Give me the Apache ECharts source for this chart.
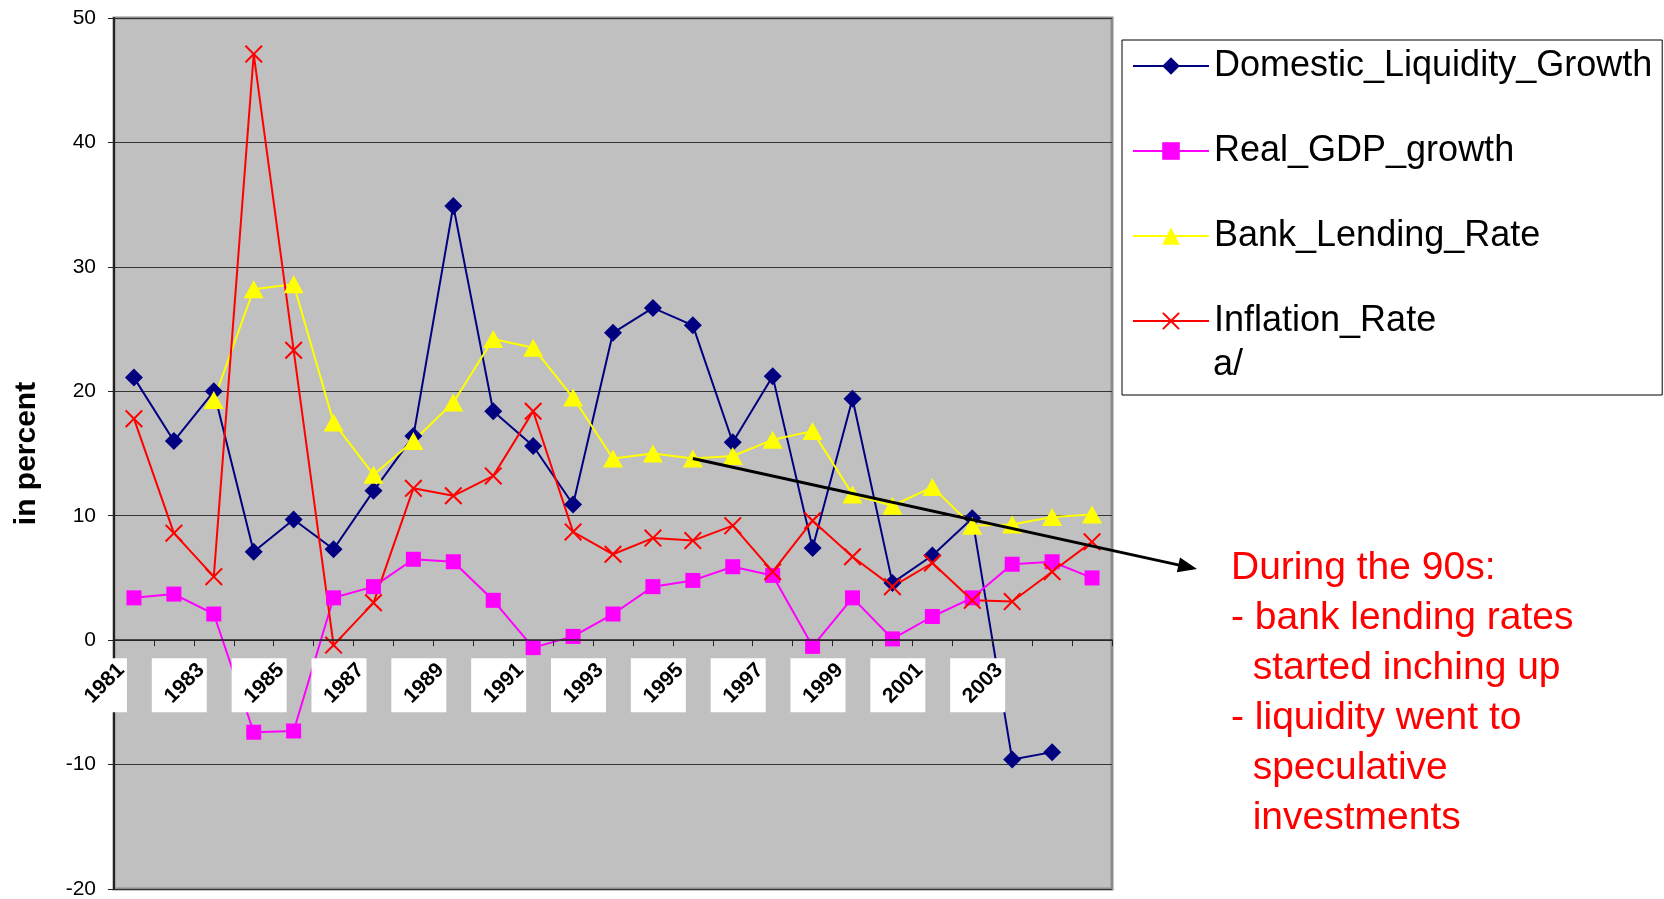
<!DOCTYPE html>
<html>
<head>
<meta charset="utf-8">
<title>Domestic liquidity, GDP, lending rate and inflation</title>
<script src="https://cdn.jsdelivr.net/npm/echarts@6/dist/echarts.min.js"></script>
<style>
html, body { margin: 0; padding: 0; background: #fff; }
#main { width: 1664px; height: 899px; }
</style>
</head>
<body>
<div id="main"></div>
<script>
// categories (one per year), only every other one carries a label
var years = ['1981', '1982', '1983', '1984', '1985', '1986', '1987', '1988', '1989', '1990',
             '1991', '1992', '1993', '1994', '1995', '1996', '1997', '1998', '1999', '2000',
             '2001', '2002', '2003', '2004', '2005'];

// series values (in percent)
var liquidity = [21.1, 16.0, 20.0, 7.1, 9.7, 7.3, 12.0, 16.4, 34.9, 18.4, 15.6, 10.9, 24.7,
                 26.7, 25.3, 15.9, 21.2, 7.4, 19.4, 4.6, 6.8, 9.8, -9.6, -9.0, null];
var gdp = [3.4, 3.7, 2.1, -7.4, -7.3, 3.4, 4.3, 6.5, 6.3, 3.2, -0.6, 0.3, 2.1,
           4.3, 4.8, 5.9, 5.2, -0.5, 3.4, 0.1, 1.9, 3.4, 6.1, 6.3, 5.0];
var lending = [null, null, 19.3, 28.2, 28.6, 17.5, 13.3, 16.0, 19.1, 24.2, 23.5, 19.5, 14.6,
               15.0, 14.6, 14.8, 16.1, 16.8, 11.7, 10.8, 12.3, 9.2, 9.3, 9.9, 10.1];
var inflation = [17.8, 8.6, 5.1, 47.1, 23.3, -0.4, 3.0, 12.2, 11.6, 13.2, 18.4, 8.7, 6.9,
                 8.2, 8.0, 9.2, 5.5, 9.6, 6.7, 4.3, 6.2, 3.2, 3.1, 5.5, 7.9];

// y axis ticks
var yMin = -20, yMax = 50, yStep = 10;

var noteLines = ['During the 90s:', '- bank lending rates', '  started inching up',
                 '- liquidity went to', '  speculative', '  investments'];
var arrowFrom = 14; // index of the bank lending point the arrow starts at

var font = '"Liberation Sans", Arial, Helvetica, sans-serif';
var gridTop = 18, gridBottom = 10, gridH = 899 - gridTop - gridBottom;
// the category axis crosses the value axis at 0 (like Excel)
var zeroOffset = -gridH * (0 - yMin) / (yMax - yMin);
var crossPath = 'path://M0,0.8 L0.8,0 L5,4.2 L9.2,0 L10,0.8 L5.8,5 L10,9.2 L9.2,10 L5,5.8 L0.8,10 L0,9.2 L4.2,5 Z';

function everyOther(i) {
    return i % 2 === 0 && i < years.length - 1;
}

var chart = echarts.init(document.getElementById('main'));

var option = {
    animation: false,
    backgroundColor: '#fff',
    textStyle: { fontFamily: font },
    grid: {
        left: 114, right: 552, top: gridTop, bottom: gridBottom,
        show: true, backgroundColor: '#c0c0c0', borderColor: '#8c8c8c', borderWidth: 3,
        containLabel: false, outerBoundsMode: 'none'
    },
    legend: {
        orient: 'vertical', left: 1122, top: 40,
        itemWidth: 76, itemHeight: 22, itemGap: 43,
        padding: [5, 10, 53, 10],
        borderColor: '#000', borderWidth: 1, backgroundColor: '#fff',
        selectedMode: false,
        textStyle: { fontSize: 36, lineHeight: 42, color: '#000', fontFamily: font },
        data: ['Domestic_Liquidity_Growth', 'Real_GDP_growth', 'Bank_Lending_Rate', 'Inflation_Rate']
    },
    xAxis: [{
        type: 'category', data: years, boundaryGap: true,
        position: 'bottom', offset: zeroOffset, z: 11,
        axisLine: { onZero: false, lineStyle: { color: '#222', width: 1.5 } },
        axisTick: { show: true, interval: 0, length: 6, lineStyle: { color: '#222' } },
        axisLabel: {
            interval: everyOther, rotate: 45, margin: 14, hideOverlap: false,
            showMinLabel: true, showMaxLabel: true,
            color: '#000', fontSize: 21, fontWeight: 'bold', fontFamily: font,
            padding: [0, 18, 0, 0]
        },
        splitLine: { show: false }
    }, {
        // white label boxes under the year labels
        type: 'category', data: years, boundaryGap: true,
        position: 'bottom', offset: zeroOffset, z: 10,
        axisLine: { show: false, onZero: false },
        axisTick: { show: false },
        splitLine: { show: false },
        axisLabel: {
            interval: everyOther, margin: 18, hideOverlap: false, align: 'right',
            formatter: function () { return '{box| }{gap| }'; },
            rich: {
                box: { width: 55, height: 54, backgroundColor: '#fff' },
                gap: { width: 7, height: 54 }
            }
        }
    }],
    yAxis: {
        type: 'value', min: yMin, max: yMax, interval: yStep,
        name: 'in percent', nameLocation: 'middle', nameGap: 72,
        nameTextStyle: { fontSize: 30, fontWeight: 'bold', color: '#000', fontFamily: font },
        axisLine: { show: true, lineStyle: { color: '#222', width: 2 } },
        axisTick: { show: true, length: 6, lineStyle: { color: '#222' } },
        axisLabel: { fontSize: 21, color: '#000', margin: 18, fontFamily: font },
        splitLine: { show: true, lineStyle: { color: '#333', width: 1 } }
    },
    series: [{
        name: 'Domestic_Liquidity_Growth', type: 'line', data: liquidity,
        symbol: 'diamond', symbolSize: 18,
        lineStyle: { color: '#000080', width: 2 }, itemStyle: { color: '#000080' }
    }, {
        name: 'Real_GDP_growth', type: 'line', data: gdp,
        symbol: 'rect', symbolSize: 15,
        lineStyle: { color: '#ff00ff', width: 2 }, itemStyle: { color: '#ff00ff' }
    }, {
        name: 'Bank_Lending_Rate', type: 'line', data: lending,
        symbol: 'triangle', symbolSize: [20, 18],
        lineStyle: { color: '#ffff00', width: 2 }, itemStyle: { color: '#ffff00' }
    }, {
        name: 'Inflation_Rate', type: 'line', data: inflation,
        symbol: crossPath, symbolSize: 18,
        lineStyle: { color: '#ff0000', width: 2 }, itemStyle: { color: '#ff0000' }
    }]
};

chart.setOption(option);

// arrow from a bank lending point to the note, plus the note and the legend's "a/"
var p0 = chart.convertToPixel({ gridIndex: 0 }, [years[arrowFrom], lending[arrowFrom]]);
var tip = [1197, 569];
var dx = tip[0] - p0[0], dy = tip[1] - p0[1];
var len = Math.sqrt(dx * dx + dy * dy);
var ux = dx / len, uy = dy / len;
var headLen = 19, headHalf = 7.5;
var bx = tip[0] - ux * headLen, by = tip[1] - uy * headLen;

chart.setOption({
    graphic: [{
        type: 'line', z: 20,
        shape: { x1: p0[0], y1: p0[1], x2: tip[0] - ux * 10, y2: tip[1] - uy * 10 },
        style: { stroke: '#000', lineWidth: 3 }
    }, {
        type: 'polygon', z: 20,
        shape: { points: [tip, [bx - uy * headHalf, by + ux * headHalf], [bx + uy * headHalf, by - ux * headHalf]] },
        style: { fill: '#000' }
    }, {
        type: 'text', z: 20, x: 1231, y: 543,
        style: {
            text: noteLines.join('\n'), fill: '#ff0000',
            fontSize: 39, lineHeight: 50, fontFamily: font, verticalAlign: 'top'
        }
    }, {
        type: 'text', z: 20, x: 1213, y: 365,
        style: { text: 'a/', fill: '#000', fontSize: 36, fontFamily: font, verticalAlign: 'middle' }
    }]
});
</script>
</body>
</html>
